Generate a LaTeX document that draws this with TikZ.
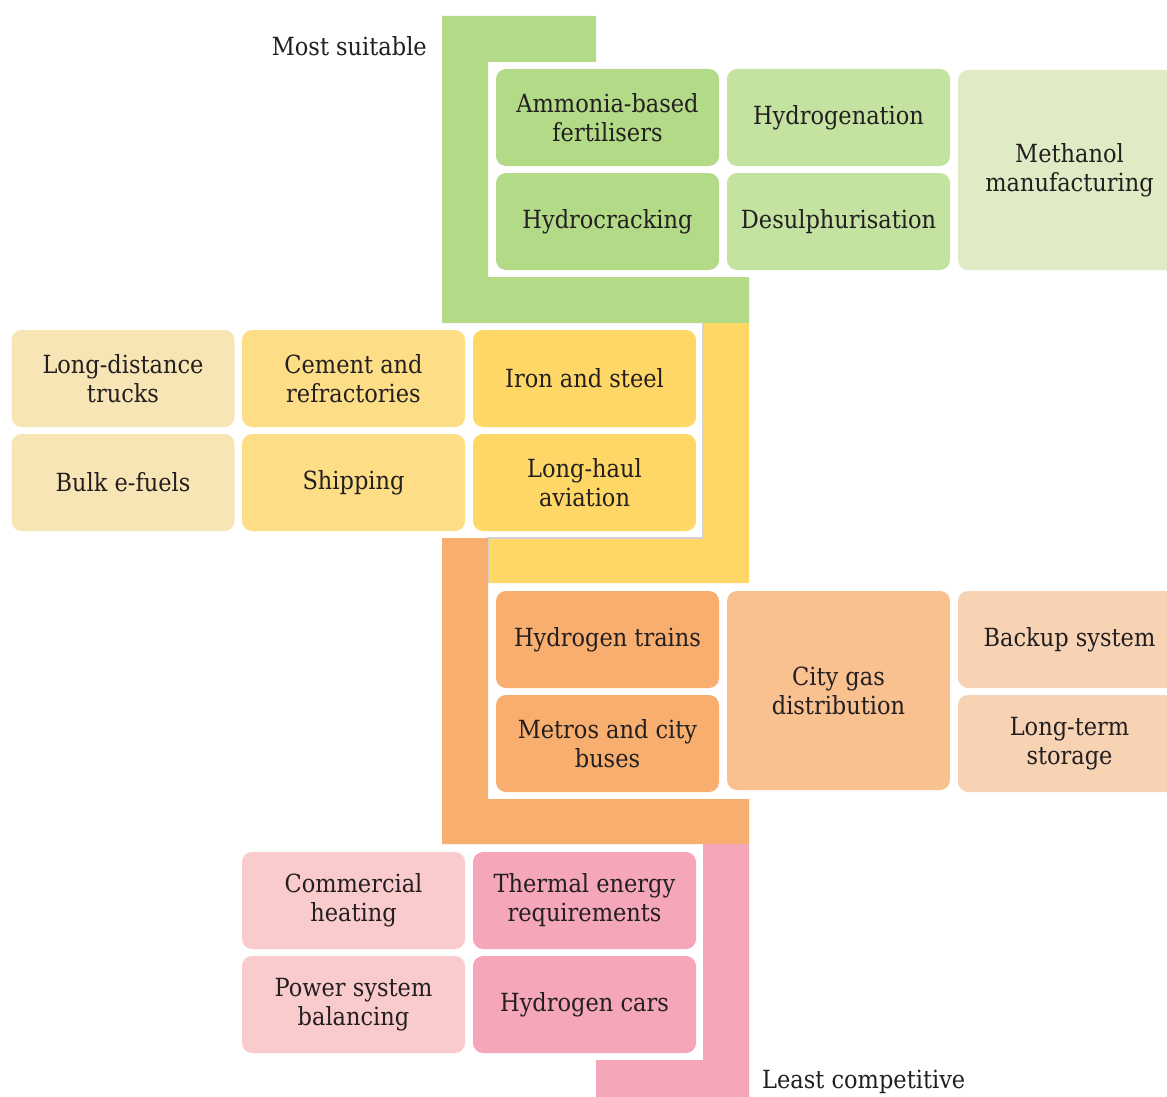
\documentclass[tikz,border=0pt]{standalone}
\usepackage{fontspec}
\setmainfont{DejaVu Serif}[FakeStretch=0.9]
\definecolor{gA}{HTML}{B3DA87}
\definecolor{gB}{HTML}{C4E2A0}
\definecolor{gC}{HTML}{DEEBC4}
\definecolor{yA}{HTML}{FFD766}
\definecolor{yB}{HTML}{FDDE87}
\definecolor{yC}{HTML}{F8E5B5}
\definecolor{oA}{HTML}{F7AE6E}
\definecolor{oB}{HTML}{F9C090}
\definecolor{oC}{HTML}{F7D2B3}
\definecolor{pA}{HTML}{F5A6B9}
\definecolor{pB}{HTML}{FACBCD}
\definecolor{txt}{HTML}{231F20}
\definecolor{edgegrey}{HTML}{D2D2D2}
\begin{document}
\begin{tikzpicture}[x=1pt,y=-1pt,
  cell/.style={rounded corners=10pt, draw=none, inner sep=0pt, align=center,
    minimum width=223pt, text=txt, font=\fontsize{25}{29}\selectfont},
  short/.style={cell, minimum height=97pt},
  tall/.style={cell, minimum height=200pt},
  lab/.style={text=txt, font=\fontsize{25}{29}\selectfont, inner sep=0pt}]
\clip (0,0) rectangle (1167,1097);
\fill[white] (0,0) rectangle (1167,1097);
% bands
\fill[gA] (442,16) -- (596,16) -- (596,62) -- (488,62) -- (488,277) -- (749,277) -- (749,323) -- (442,323) -- cycle;
\fill[yA] (703,323) -- (749,323) -- (749,583) -- (488,583) -- (488,538) -- (703,538) -- cycle;
\draw[draw=edgegrey, line width=1.2pt] (703,323) -- (703,538) -- (488,538) -- (488,583);
\fill[oA] (442,538) -- (488,538) -- (488,799) -- (749,799) -- (749,844) -- (442,844) -- cycle;
\fill[pA] (703,844) -- (749,844) -- (749,1097) -- (596,1097) -- (596,1060) -- (703,1060) -- cycle;
% green group
\node[short, fill=gA] (amm) at (607.5,117.5) {Ammonia-based\\fertilisers};
\node[short, fill=gA] (hcr) at (607.5,221.5) {Hydrocracking};
\node[short, fill=gB] (hgn) at (838.5,117.5) {Hydrogenation};
\node[short, fill=gB] (des) at (838.5,221.5) {Desulphurisation};
\node[tall, fill=gC] (meth) at (1069.5,170) {Methanol\\manufacturing};
% yellow group
\node[short, fill=yC] (ldt) at (123,378.5) {Long-distance\\trucks};
\node[short, fill=yC] (bulk) at (123,482.5) {Bulk e-fuels};
\node[short, fill=yB] (cem) at (353.5,378.5) {Cement and\\refractories};
\node[short, fill=yB] (ship) at (353.5,482.5) {Shipping};
\node[short, fill=yA] (iron) at (584.5,378.5) {Iron and steel};
\node[short, fill=yA] (lha) at (584.5,482.5) {Long-haul\\aviation};
% orange group
\node[short, fill=oA] (htr) at (607.5,639.5) {Hydrogen trains};
\node[short, fill=oA] (metro) at (607.5,743.5) {Metros and city\\buses};
\node[tall, fill=oB, minimum height=199pt] (cgd) at (838.5,690.5) {City gas\\distribution};
\node[short, fill=oC] (bkp) at (1069.5,639.5) {Backup system};
\node[short, fill=oC] (lts) at (1069.5,743.5) {Long-term\\storage};
% pink group
\node[short, fill=pB] (com) at (353.5,900.5) {Commercial\\heating};
\node[short, fill=pB] (psb) at (353.5,1004.5) {Power system\\balancing};
\node[short, fill=pA] (thr) at (584.5,900.5) {Thermal energy\\requirements};
\node[short, fill=pA] (hcar) at (584.5,1004.5) {Hydrogen cars};
% labels
\node[lab, anchor=east] (most) at (427,46) {Most suitable};
\node[lab, anchor=west] (least) at (762,1082) {Least competitive};
\end{tikzpicture}
\end{document}
